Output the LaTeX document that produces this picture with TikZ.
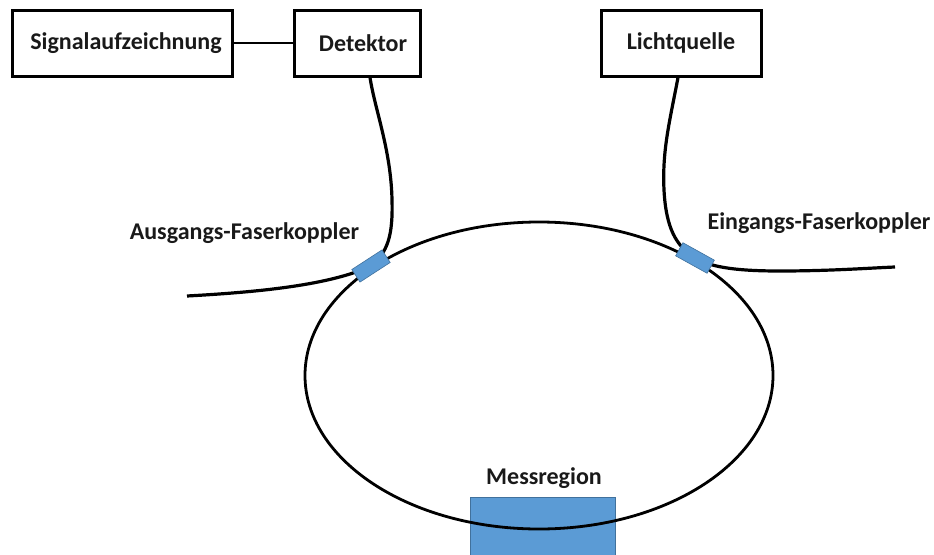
\documentclass[tikz,border=0pt]{standalone}
\usepackage{fontspec}
\setmainfont{Carlito}
\definecolor{cblue}{HTML}{5B9BD5}
\definecolor{cblueb}{HTML}{41719C}
\begin{document}
\begin{tikzpicture}[x=1pt,y=-1pt,
  every node/.style={font=\fontsize{24}{28}\selectfont\bfseries, text=black!90},
  box/.style={draw=black, line width=3pt, minimum height=66pt, inner sep=0pt},
  fiber/.style={draw=black, line width=3.2pt},
  ring/.style={draw=black, line width=2.8pt},
  coupler/.style={fill=cblue, draw=cblueb, line width=0.6pt, minimum width=36pt, minimum height=15pt, inner sep=0pt},
  lbl/.style={inner sep=0pt}]
\useasboundingbox (0,0) rectangle (934,554);
% boxes
\node[box, minimum width=220pt] (sig) at (122,43) {\hspace*{8pt}Signalaufzeichnung};
\node[box, minimum width=126pt] (det) at (357,43) {\hspace*{12pt}Detektor};
\node[box, minimum width=160pt] (licht) at (681,43) {Lichtquelle};
\draw[line width=2.2pt] (sig.east) -- (det.west);
% measurement region
\fill[cblue, draw=cblueb, line width=0.6pt] (470,497) rectangle (615,560);
\node[lbl] (mess) at (544,478) {Messregion};
% ring
\draw[ring] (539,375.5) ellipse [x radius=234, y radius=153.5];
% couplers positions
\coordinate (ca0) at (371,266);
\coordinate (ce0) at (695,258);
\coordinate (tailA) at (187,296);
\coordinate (tailE) at (895,267);
% fibers
\draw[fiber] (tailA) .. controls (260,292) and (330,285) .. (ca0)
  .. controls (388,252) and (393,235) .. (392,200)
  .. controls (391,150) and (375,110) .. ([xshift=13pt]det.south);
\draw[fiber] ([xshift=-3pt]licht.south) .. controls (670,120) and (662,150) .. (664,190)
  .. controls (666,228) and (676,246) .. (ce0)
  .. controls (712,268) and (740,271) .. (780,271)
  .. controls (830,271) and (870,268) .. (tailE);
% couplers
\node[coupler, rotate=33] (ca) at (ca0) {};
\node[coupler, rotate=-29] (ce) at (ce0) {};
% labels
\node[lbl] (la) at (244.5,233) {Ausgangs-Faserkoppler};
\node[lbl] (le) at (819,223) {Eingangs-Faserkoppler};
\end{tikzpicture}
\end{document}
